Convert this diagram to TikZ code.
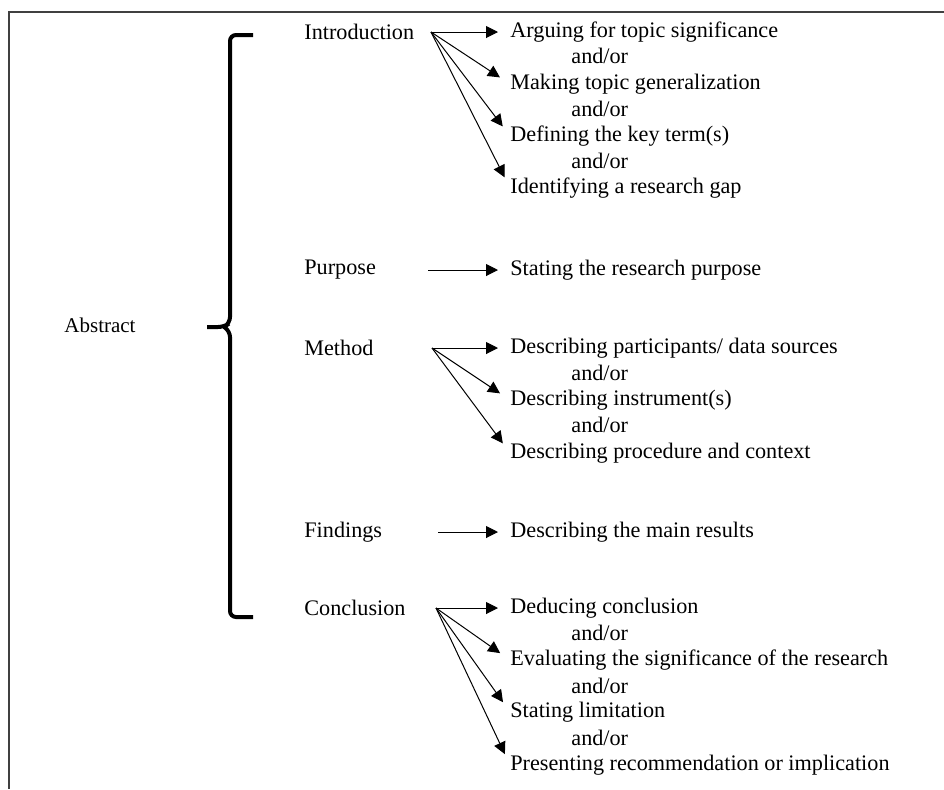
\documentclass[tikz,border=0pt]{standalone}
\usepackage{fontspec}
\setmainfont{Liberation Serif}
\usetikzlibrary{arrows.meta,positioning}
\tikzset{
  lbl/.style={anchor=west, inner sep=0pt, font=\fontsize{11.1}{13}\selectfont},
  txt/.style={anchor=west, inner sep=0pt, font=\fontsize{11.1}{13}\selectfont},
  andor/.style={anchor=west, inner sep=0pt, font=\fontsize{11.1}{13}\selectfont},
  arr/.style={-{Triangle[length=6pt,width=6pt]}, line width=0.5pt, shorten >=6pt},
  brace/.style={line width=2pt, rounded corners=3pt},
}
\begin{document}
\begin{tikzpicture}[x=0.5pt, y=-0.5pt]
\useasboundingbox (0,0) rectangle (944,789);
% Frame (top and left)
\draw[black!75, line width=0.8pt] (944,12) -- (9,12) -- (9,789);
% Brace
\draw[brace] (253,35) -- (230,35) -- (230,323) -- (224,327) -- (207,327);
\draw[brace] (224,327) -- (230,331) -- (230,617) -- (253,617);
\node[font=\fontsize{10.5}{12}\selectfont] (abs) at (100,325) {Abstract};
% Sections (left column)
\node[lbl] (intro) at (304,32) {Introduction};
\node[lbl] (purp) at (304,270) {Purpose};
\node[lbl] (meth) at (304,348) {Method};
\node[lbl] (find) at (304,532) {Findings};
\node[lbl] (concl) at (304,608) {Conclusion};
\coordinate (intro-o) at (431,32);
\coordinate (purp-o) at (428,270);
\coordinate (meth-o) at (432,348);
\coordinate (find-o) at (438,532);
\coordinate (concl-o) at (436,608);
% Moves (right column)
\node[txt] (arg) at (510,32) {Arguing for topic significance};
\node[andor] at (571,56) {and/or};
\node[txt] (mak) at (510,84) {Making topic generalization};
\node[andor] at (571,109) {and/or};
\node[txt] (def) at (510,136) {Defining the key term(s)};
\node[andor] at (571,161) {and/or};
\node[txt] (ide) at (510,188) {Identifying a research gap};
\node[txt] (stat) at (510,270) {Stating the research purpose};
\node[txt] (part) at (510,348) {Describing participants/ data sources};
\node[andor] at (571,373) {and/or};
\node[txt] (instr) at (510,400) {Describing instrument(s)};
\node[andor] at (571,425) {and/or};
\node[txt] (proc) at (510,453) {Describing procedure and context};
\node[txt] (res) at (510,532) {Describing the main results};
\node[txt] (ded) at (510,608) {Deducing conclusion};
\node[andor] at (571,633) {and/or};
\node[txt] (eval) at (510,660) {Evaluating the significance of the research};
\node[andor] at (571,686) {and/or};
\node[txt] (lim) at (510,712) {Stating limitation};
\node[andor] at (571,738) {and/or};
\node[txt] (pres) at (510,765) {Presenting recommendation or implication};
% Arrows
\foreach \t in {arg,mak,def,ide} \draw[arr] (intro-o) -- (\t.west);
\draw[arr] (purp-o) -- (stat.west);
\foreach \t in {part,instr,proc} \draw[arr] (meth-o) -- (\t.west);
\draw[arr] (find-o) -- (res.west);
\foreach \t in {ded,eval,lim,pres} \draw[arr] (concl-o) -- (\t.west);
\end{tikzpicture}
\end{document}
